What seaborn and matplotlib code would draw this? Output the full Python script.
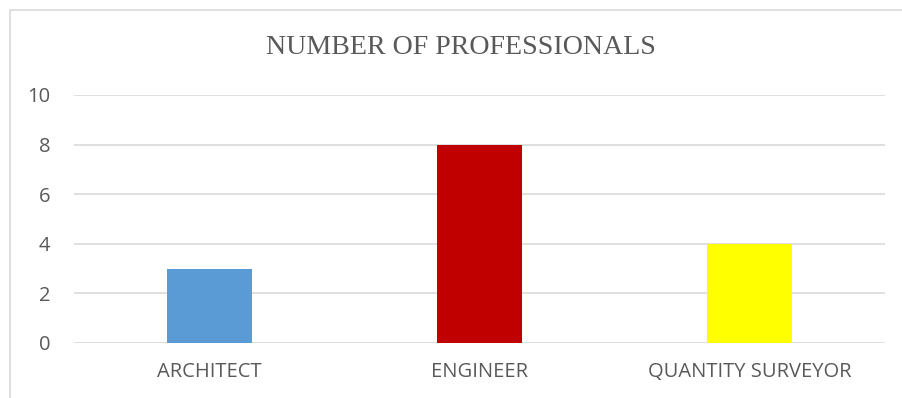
import matplotlib
matplotlib.use('Agg')
import matplotlib.pyplot as plt
import seaborn as sns
import pandas as pd
from matplotlib.patches import Rectangle

categories = ['ARCHITECT', 'ENGINEER', 'QUANTITY SURVEYOR']
counts = [3, 8, 4]
bar_colors = ['#5B9BD5', '#C00000', '#FFFF00']
y_ticks = [0, 2, 4, 6, 8, 10]

df = pd.DataFrame({'profession': categories, 'count': counts})

sns.set_style('white')
plt.rcParams['font.family'] = ['Open Sans', 'DejaVu Sans']

fig = plt.figure(figsize=(9.02, 3.98), dpi=100)
ax = fig.add_axes([74 / 902, 1 - 343 / 398, (885 - 74) / 902, (343 - 95) / 398])

sns.barplot(data=df, x='profession', y='count', hue='profession', palette=bar_colors,
            width=0.315, legend=False, saturation=1, linewidth=0, ax=ax, zorder=3)

ax.set_ylim(0, 10)
ax.set_xlim(-0.5, 2.5)
ax.set_yticks(y_ticks)
ax.yaxis.grid(True, color='#D9D9D9', linewidth=1.2, zorder=0)
ax.set_axisbelow(True)
for s in ax.spines.values():
    s.set_visible(False)
ax.tick_params(axis='both', length=0, labelsize=14.5, colors='#595959')
ax.tick_params(axis='y', pad=17)
ax.tick_params(axis='x', pad=14)
ax.set_xlabel('')
ax.set_ylabel('')

fig.text(461 / 902, 1 - 48 / 398, 'NUMBER OF PROFESSIONALS', ha='center', va='center',
         fontsize=20.2, color='#595959', family=['Liberation Serif', 'DejaVu Serif'])

# chart frame
fig.patches.append(Rectangle((10 / 902, -0.1), 1.2, 1 - 10 / 398 + 0.1,
                             transform=fig.transFigure, fill=False,
                             edgecolor='#D9D9D9', linewidth=1.2))

fig.savefig('out.png', dpi=100)
